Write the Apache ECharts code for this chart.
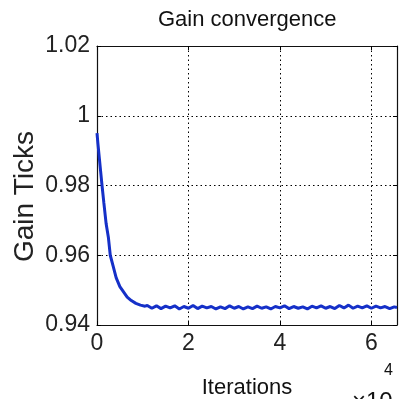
<!DOCTYPE html>
<html>
<head>
<meta charset="utf-8">
<script src="https://cdn.jsdelivr.net/npm/echarts@6/dist/echarts.min.js"></script>
<style>html,body{margin:0;padding:0;background:#fff}#c{width:400px;height:399px}</style>
</head>
<body>
<div id="c"></div>
<script>
// Iterations in units of 10^4
var iterations = [0.00,0.02,0.05,0.08,0.11,0.15,0.20,0.25,0.29,0.35,0.42,0.50,0.58,0.66,0.75,0.85,0.95,1.05,
  1.1,1.2,1.3,1.4,1.5,1.6,1.7,1.8,1.9,2.0,2.1,2.2,2.3,2.4,2.5,2.6,2.7,2.8,2.9,3.0,3.1,3.2,3.3,3.4,3.5,3.6,3.7,3.8,3.9,
  4.0,4.1,4.2,4.3,4.4,4.5,4.6,4.7,4.8,4.9,5.0,5.1,5.2,5.3,5.4,5.5,5.6,5.7,5.8,5.9,6.0,6.1,6.2,6.3,6.4,6.5,6.56];
var gain = [0.995,0.992,0.988,0.984,0.980,0.975,0.969,0.965,0.960,0.957,0.9535,0.951,0.9495,0.948,0.947,0.9462,0.9457,0.9454,
  0.9456,0.9448,0.9455,0.9447,0.9454,0.9449,0.9455,0.9446,0.9453,0.9448,0.9456,0.9447,0.9454,0.9449,0.9453,0.9446,0.9452,0.9447,0.9455,0.9448,0.9453,0.9446,0.9452,0.9447,0.9454,0.9448,0.9452,0.9446,0.9453,
  0.9449,0.9455,0.9447,0.9453,0.9448,0.9452,0.9446,0.9454,0.9449,0.9455,0.9448,0.9453,0.9447,0.9456,0.9449,0.9457,0.9448,0.9454,0.9449,0.9455,0.9448,0.9454,0.9449,0.9453,0.9447,0.9452,0.9450];
var xTicks = {min: 0, max: 6.56, interval: 2};
var yTicks = {min: 0.94, max: 1.02, interval: 0.02};
var titleText = 'Gain convergence';
var xName = 'Iterations';
var yName = 'Gain Ticks';

var FONT = "'Liberation Sans', Arial, sans-serif";
var chart = echarts.init(document.getElementById('c'), null, {renderer: 'canvas'});
var pts = iterations.map(function (x, i) { return [x, gain[i]]; });
var dotted = {show: true, lineStyle: {color: '#000', width: 1, type: [1.5, 3]}};
var tick = {show: true, inside: true, length: 4, lineStyle: {color: '#000'}};
var line = {show: true, onZero: false, lineStyle: {color: '#111', width: 1.2}};
chart.setOption({
  animation: false,
  backgroundColor: '#fff',
  title: {text: titleText, left: 153, top: 4,
    textStyle: {fontFamily: FONT, fontSize: 22, fontWeight: 'normal', color: '#111'}},
  grid: {left: 97, right: 3, top: 46, bottom: 74, outerBoundsMode: 'none', containLabel: false},
  xAxis: [{
    type: 'value', min: xTicks.min, max: xTicks.max, interval: xTicks.interval,
    position: 'bottom', axisLine: line, axisTick: tick, splitLine: dotted,
    axisLabel: {showMaxLabel: false, margin: 7, fontFamily: FONT, fontSize: 23, color: '#222'},
    name: xName, nameLocation: 'middle', nameGap: 52, nameMoveOverlap: false,
    nameTextStyle: {fontFamily: FONT, fontSize: 22, color: '#111'}
  }, {
    type: 'value', min: xTicks.min, max: xTicks.max, interval: xTicks.interval,
    position: 'top', axisLine: line, axisTick: tick, splitLine: {show: false},
    axisLabel: {show: false}
  }],
  yAxis: [{
    type: 'value', min: yTicks.min, max: yTicks.max, interval: yTicks.interval,
    position: 'left', axisLine: line, axisTick: tick, splitLine: dotted,
    axisLabel: {margin: 7, fontFamily: FONT, fontSize: 23, color: '#222'},
    name: yName, nameLocation: 'middle', nameGap: 58, nameRotate: 90, nameMoveOverlap: false,
    nameTextStyle: {fontFamily: FONT, fontSize: 28, color: '#222', padding: [0, 22, 0, 0]}
  }, {
    type: 'value', min: yTicks.min, max: yTicks.max, interval: yTicks.interval,
    position: 'right', axisLine: line, axisTick: tick, splitLine: {show: false},
    axisLabel: {show: false}
  }],
  graphic: [
    {type: 'text', left: 352, top: 390, style: {text: '×10', font: "24px " + FONT, fill: '#111'}},
    {type: 'text', left: 384, top: 363, style: {text: '4', font: "16px " + FONT, fill: '#111'}}
  ],
  series: [{
    type: 'line', xAxisIndex: 0, yAxisIndex: 0, data: pts, showSymbol: false,
    lineStyle: {color: '#1530c8', width: 3}, z: 5
  }]
});
</script>
</body>
</html>
